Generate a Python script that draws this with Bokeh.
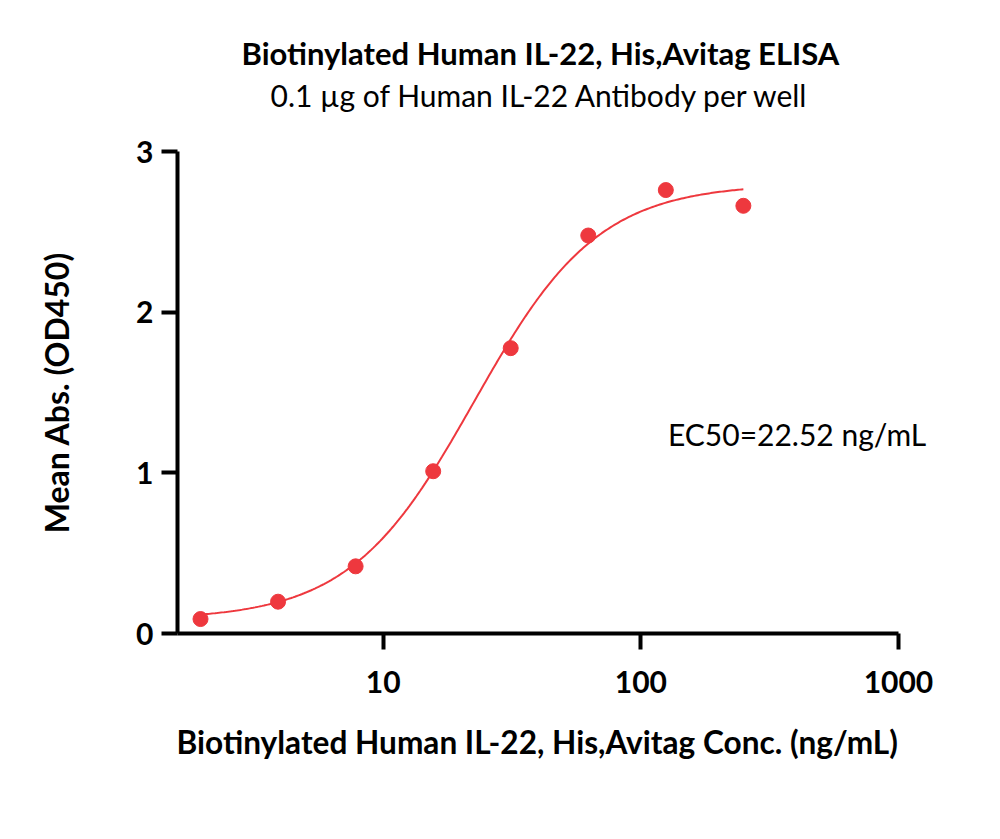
import numpy as np
from bokeh.plotting import figure
from bokeh.models import Range1d, Label, FixedTicker, Title
from bokeh.embed import file_html
from bokeh.resources import INLINE

# data
conc = [1.953, 3.906, 7.813, 15.63, 31.25, 62.5, 125.0, 250.0]
od450 = [0.09, 0.198, 0.418, 1.01, 1.776, 2.477, 2.76, 2.662]

# 4PL fit parameters (EC50 given on the chart)
fit_bottom = 0.085
fit_top = 2.80
fit_ec50 = 22.52
fit_hill = 1.8

title = "Biotinylated Human IL-22, His,Avitag ELISA"
subtitle = "0.1 \u00b5g of Human IL-22 Antibody per well"
x_title = "Biotinylated Human IL-22, His,Avitag Conc. (ng/mL)"
y_title = "Mean Abs. (OD450)"
ec50_text = "EC50=22.52 ng/mL"
x_ticks = [10, 100, 1000]
x_tick_labels = ["10", "100", "1000"]
y_ticks = [0, 1, 2, 3]
x_axis_start = 1.59
x_axis_end = 1000

RED = "#EE383E"
FONT = "Lato"

p = figure(width=1000, height=839, x_axis_type="log",
           x_range=Range1d(x_axis_start, 1456), y_range=Range1d(0, 3),
           output_backend="svg", toolbar_location=None,
           min_border_left=177, min_border_right=60,
           min_border_top=151, min_border_bottom=206)
p.outline_line_color = None
p.grid.visible = False
p.background_fill_color = "white"
p.border_fill_color = "white"

xs = np.logspace(np.log10(conc[0]), np.log10(conc[-1]), 300)
ys = fit_bottom + (fit_top - fit_bottom) / (1 + (fit_ec50 / xs) ** fit_hill)
p.line(xs, ys, line_color=RED, line_width=2)
p.scatter(conc, od450, size=15, fill_color=RED, line_color=RED)

for ax in (p.xaxis[0], p.yaxis[0]):
    ax.axis_line_width = 4
    ax.axis_line_color = "black"
    ax.major_tick_line_width = 4
    ax.major_tick_line_color = "black"
    ax.major_tick_out = 16
    ax.major_tick_in = 0
    ax.minor_tick_line_color = None
    ax.major_label_text_font = FONT
    ax.major_label_text_font_style = "bold"
    ax.major_label_text_font_size = "30px"
    ax.major_label_text_color = "black"
    ax.axis_label_text_font = FONT
    ax.axis_label_text_font_style = "bold"
    ax.axis_label_text_font_size = "32px"
    ax.axis_label_text_color = "black"

p.xaxis.bounds = (x_axis_start, x_axis_end)
p.xaxis.ticker = FixedTicker(ticks=x_ticks)
p.xaxis.major_label_overrides = {t: s for t, s in zip(x_ticks, x_tick_labels)}
p.yaxis.ticker = FixedTicker(ticks=y_ticks)
p.xaxis.major_label_standoff = 21
p.yaxis.major_label_standoff = 8
p.yaxis.axis_label = y_title
p.yaxis.axis_label_standoff = 57

# x-axis title, left-aligned to the axis start so it is centred on the axis line
p.add_layout(Title(text=x_title, text_font=FONT, text_font_size="31.6px",
                   text_font_style="bold", align="left", offset=-1,
                   text_color="black", standoff=50), "below")

p.add_layout(Label(x=127.4, y=1.24, text=ec50_text, text_font=FONT,
                   text_font_size="30px", text_baseline="middle",
                   text_color="black"))

# spacer, then subtitle, then title (stacked upward from the frame)
p.add_layout(Title(text=" ", text_font_size="10px", standoff=24), "above")
p.add_layout(Title(text=subtitle, text_font=FONT, text_font_size="30px",
                   text_font_style="normal", align="left", offset=93,
                   text_color="black", standoff=4), "above")
p.add_layout(Title(text=title, text_font=FONT, text_font_size="31px",
                   text_font_style="bold", align="left", offset=64,
                   text_color="black", standoff=1), "above")

open("out.html", "w").write(file_html(p, INLINE))
